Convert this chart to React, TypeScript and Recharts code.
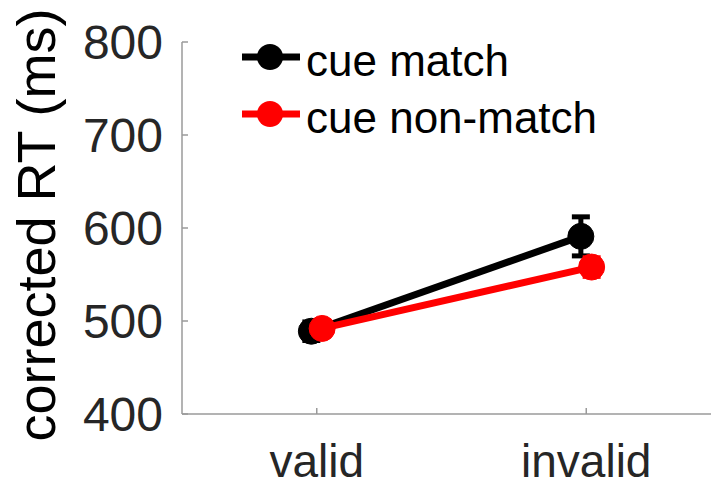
import React from 'react';
import { ComposedChart, Line, XAxis, YAxis, ErrorBar } from 'recharts';

const categories = ['valid', 'invalid'];
const seriesNames = ['cue match', 'cue non-match'];
const seriesColors = ['#000000', '#ff0000'];
const cueMatch = [489, 591];
const cueMatchErr = [10, 21];
const cueNonMatch = [492, 558];
const cueNonMatchErr = [8, 10];
const yTicks = [400, 500, 600, 700, 800];
const xTicks = [1, 2];
const jitter = 0.02;

const matchData = categories.map((c, i) => ({ cat: c, x: i + 1 - jitter, y: cueMatch[i], err: cueMatchErr[i] }));
const nonMatchData = categories.map((c, i) => ({ cat: c, x: i + 1 + jitter, y: cueNonMatch[i], err: cueNonMatchErr[i] }));

const FONT = '"Liberation Sans", Arial, Helvetica, sans-serif';
const AXIS = '#9a9a9a';
const TXT = '#262626';

const LegendBox = () => (
  <div style={{ position: 'absolute', top: 28, left: 240, fontFamily: FONT }}>
    {seriesNames.map((n, i) => (
      <div key={n} style={{ display: 'flex', alignItems: 'center', height: 57 }}>
        <svg width={62} height={30} style={{ display: 'block' }}>
          <line x1={2} x2={60} y1={15} y2={15} stroke={seriesColors[i]} strokeWidth={7} />
          <circle cx={30} cy={15} r={13} fill={seriesColors[i]} />
        </svg>
        <span style={{ fontSize: 44, color: '#000', marginLeft: 4, lineHeight: '44px', position: 'relative', top: 4, whiteSpace: 'nowrap' }}>{n}</span>
      </div>
    ))}
  </div>
);

const YLabel = (props: any) => {
  const vb = props.viewBox || { x: 0, y: 42, width: 182, height: 372 };
  const cx = vb.x + 55;
  const cy = vb.y + vb.height / 2 - 3;
  return (
    <text x={cx} y={cy} transform={`rotate(-90, ${cx}, ${cy})`} textAnchor="middle" fontSize={54} fontFamily={FONT} fill="#000">
      corrected RT (ms)
    </text>
  );
};

export default function App() {
  return (
    <div style={{ position: 'absolute', left: 0, top: 0, width: 711, height: 488, overflow: 'hidden', background: '#fff' }}>
      <ComposedChart width={740} height={488} margin={{ top: 42, right: 19, bottom: 0, left: 0 }}>
        <XAxis
          type="number"
          dataKey="x"
          domain={[0.5, 2.5]}
          ticks={xTicks}
          tickFormatter={(v: number) => categories[Math.round(v) - 1]}
          height={74}
          tickSize={-6}
          tickMargin={36}
          axisLine={{ stroke: AXIS, strokeWidth: 1.5 }}
          tickLine={{ stroke: AXIS, strokeWidth: 1.5 }}
          tick={{ fontSize: 46, fontFamily: FONT, fill: TXT }}
          allowDataOverflow
        />
        <YAxis
          type="number"
          domain={[400, 800]}
          ticks={yTicks}
          width={182}
          tickSize={-6}
          tickMargin={25}
          axisLine={{ stroke: AXIS, strokeWidth: 1.5 }}
          tickLine={{ stroke: AXIS, strokeWidth: 1.5 }}
          tick={{ fontSize: 48, fontFamily: FONT, fill: TXT }}
          label={<YLabel />}
        />
        <Line
          data={matchData}
          dataKey="y"
          name={seriesNames[0]}
          stroke={seriesColors[0]}
          strokeWidth={7}
          dot={{ r: 13, fill: seriesColors[0], stroke: seriesColors[0], strokeWidth: 1 }}
          activeDot={false}
          isAnimationActive={false}
        >
          <ErrorBar dataKey="err" direction="y" width={9} strokeWidth={5} stroke={seriesColors[0]} isAnimationActive={false} />
        </Line>
        <Line
          data={nonMatchData}
          dataKey="y"
          name={seriesNames[1]}
          stroke={seriesColors[1]}
          strokeWidth={7}
          dot={{ r: 13, fill: seriesColors[1], stroke: seriesColors[1], strokeWidth: 1 }}
          activeDot={false}
          isAnimationActive={false}
        >
          <ErrorBar dataKey="err" direction="y" width={9} strokeWidth={5} stroke={seriesColors[1]} isAnimationActive={false} />
        </Line>
      </ComposedChart>
      <LegendBox />
    </div>
  );
}
